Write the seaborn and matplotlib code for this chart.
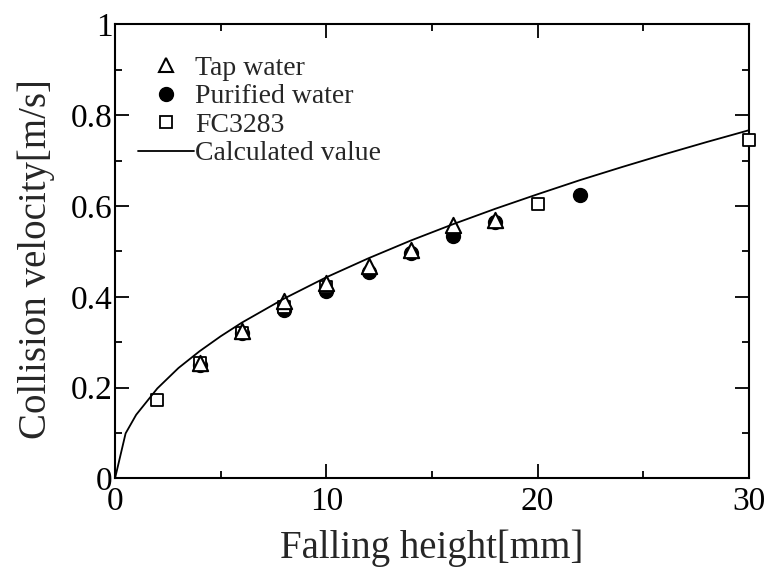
import numpy as np
import pandas as pd
import matplotlib
matplotlib.use("Agg")
import matplotlib.pyplot as plt
import seaborn as sns
from matplotlib.lines import Line2D
from matplotlib.ticker import MultipleLocator

# ---- data ----
tap_h = [4, 6, 8, 10, 12, 14, 16, 18]
tap_v = [0.254, 0.324, 0.390, 0.430, 0.467, 0.504, 0.559, 0.569]

pur_h = [4, 6, 8, 10, 12, 14, 16, 18, 22]
pur_v = [0.250, 0.320, 0.371, 0.412, 0.454, 0.497, 0.533, 0.565, 0.625]

fc_h = [2, 4, 6, 8, 10, 20, 30]
fc_v = [0.173, 0.254, 0.320, 0.377, 0.422, 0.605, 0.745]

calc_h = [0, 0.5, 1, 2, 3, 4, 5, 6, 8, 10, 12, 14, 16, 18, 20, 22, 24, 26, 28, 30]
calc_v = [0.0, 0.099, 0.140, 0.198, 0.243, 0.280, 0.313, 0.343, 0.396, 0.443,
          0.485, 0.524, 0.560, 0.594, 0.626, 0.657, 0.686, 0.714, 0.741, 0.767]

labels = ["Tap water", "Purified water", "FC3283", "Calculated value"]
x_label = "Falling height[mm]"
y_label = "Collision velocity[m/s]"

sns.set_style("ticks")
plt.rcParams['font.family'] = ['Liberation Serif', 'DejaVu Serif']

fig = plt.figure(figsize=(7.7, 5.72), dpi=100)
ax = fig.add_axes([0.1494, 0.1638, 0.8233, 0.7934])

df_tap = pd.DataFrame({"h": tap_h, "v": tap_v})
df_pur = pd.DataFrame({"h": pur_h, "v": pur_v})
df_fc = pd.DataFrame({"h": fc_h, "v": fc_v})
df_calc = pd.DataFrame({"h": calc_h, "v": calc_v})

sns.scatterplot(data=df_pur, x="h", y="v", ax=ax, marker="o", s=10.0**2,
                color="black", edgecolor="black", linewidth=1.0, zorder=3, clip_on=False)
sns.scatterplot(data=df_fc, x="h", y="v", ax=ax, marker="s", s=8.5**2,
                facecolor="white", edgecolor="black", linewidth=1.3, zorder=4, clip_on=False)
sns.scatterplot(data=df_tap, x="h", y="v", ax=ax, marker="^", s=11.0**2,
                facecolor="white", edgecolor="black", linewidth=1.5, zorder=5, clip_on=False)
sns.lineplot(data=df_calc, x="h", y="v", ax=ax, color="black", linewidth=1.3,
             zorder=6, sort=False)

ax.set_xlim(0, 30)
ax.set_ylim(0, 1)
ax.xaxis.set_major_locator(MultipleLocator(10))
ax.xaxis.set_minor_locator(MultipleLocator(5))
ax.yaxis.set_major_locator(MultipleLocator(0.2))
ax.yaxis.set_minor_locator(MultipleLocator(0.1))
ax.xaxis.set_major_formatter(plt.FuncFormatter(lambda v, p: f"{v:g}"))
ax.yaxis.set_major_formatter(plt.FuncFormatter(lambda v, p: f"{v:g}"))

ax.tick_params(which="both", direction="in", top=True, right=True,
               width=1.3, colors="black", labelsize=24)
ax.tick_params(which="major", length=10)
ax.tick_params(which="minor", length=5)
ax.tick_params(axis="x", which="major", pad=6)
ax.tick_params(axis="y", which="major", pad=2)
for sp in ax.spines.values():
    sp.set_visible(True)
    sp.set_linewidth(1.5)
    sp.set_color("black")

ax.set_xlabel(x_label, fontsize=28, labelpad=9)
ax.set_ylabel(y_label, fontsize=28, labelpad=11)
ax.yaxis.label.set_y(0.4835)

handles = [
    Line2D([], [], linestyle="none", marker="^", markersize=10, markerfacecolor="white",
           markeredgecolor="black", markeredgewidth=1.5),
    Line2D([], [], linestyle="none", marker="o", markersize=10, markerfacecolor="black",
           markeredgecolor="black"),
    Line2D([], [], linestyle="none", marker="s", markersize=8, markerfacecolor="white",
           markeredgecolor="black", markeredgewidth=1.3),
    Line2D([], [], color="black", linewidth=1.3),
]
leg = ax.legend(handles, labels, loc="upper left", bbox_to_anchor=(0.037, 0.932),
                frameon=False, fontsize=20, handlelength=2.0, handletextpad=0.05,
                labelspacing=0.11, borderaxespad=0.0, borderpad=0.0)

fig.savefig("out.png", dpi=100)
